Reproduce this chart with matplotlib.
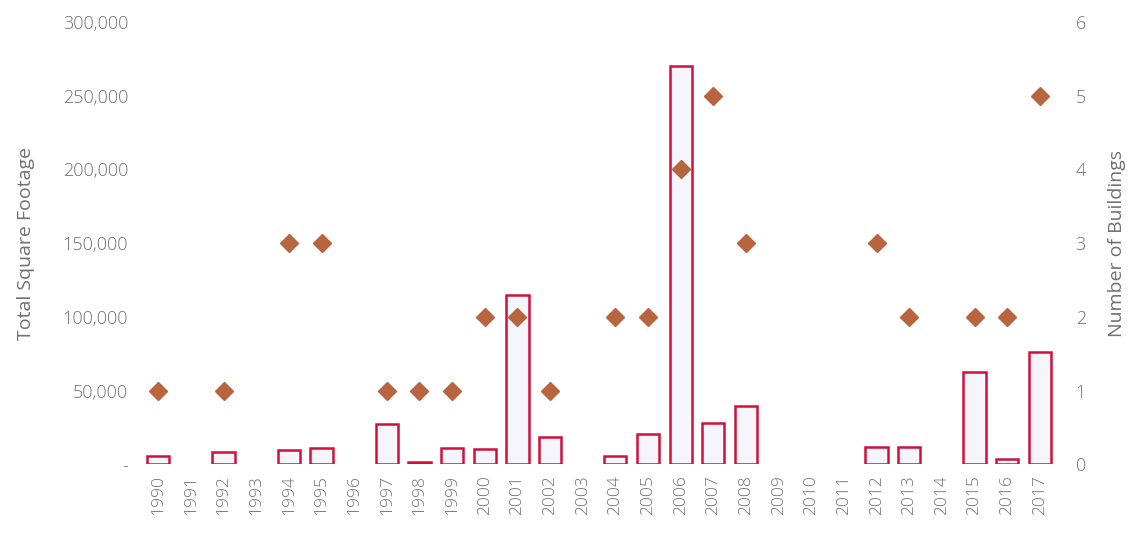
import matplotlib
matplotlib.use('Agg')
import matplotlib.pyplot as plt
import matplotlib.ticker as mticker
import numpy as np

years = [str(y) for y in range(1990, 2018)]
# total square footage per year
sqft = [5500, 0, 8000, 0, 9500, 11000, 0, 27000, 1500, 11000,
        10000, 115000, 18500, 0, 5500, 20500, 270000, 28000, 39500, 0,
        0, 0, 11500, 12000, 0, 62500, 3500, 76000]
# number of buildings per year (nan = none)
buildings = [1, np.nan, 1, np.nan, 3, 3, np.nan, 1, 1, 1,
             2, 2, 1, np.nan, 2, 2, 4, 5, 3, np.nan,
             np.nan, np.nan, 3, 2, np.nan, 2, 2, 5]

left_ticks = [0, 50000, 100000, 150000, 200000, 250000, 300000]
right_ticks = [0, 1, 2, 3, 4, 5, 6]

text_col = '#707070'
bar_edge = '#d0103a'
bar_fill = '#f5f5fb'
dot_col = '#b8643e'

plt.rcParams['font.family'] = ['Open Sans', 'DejaVu Sans']
plt.rcParams['font.weight'] = 'light'

def main():
    fig = plt.figure(figsize=(11.32, 5.33), dpi=100)
    ax = fig.add_axes([0.1254, 0.129, 0.8076, 0.83])
    x = np.arange(len(years))

    # only years with construction get a bar
    xs = [i for i in x if sqft[i] > 0]
    hs = [sqft[i] for i in xs]
    ax.bar(xs, hs, width=0.68, color=bar_fill, edgecolor=bar_edge, linewidth=1.8)
    ax.set_xlim(-0.5, len(years) - 0.5)
    ax.set_ylim(0, 300000)
    ax.set_yticks(left_ticks)
    ax.yaxis.set_major_formatter(mticker.FuncFormatter(
        lambda v, p: '-' if v == 0 else f'{int(v):,}'))
    ax.set_xticks(x)
    ax.set_xticklabels(years, rotation=90)
    ax.set_ylabel('Total Square Footage', fontsize=14, color=text_col, labelpad=20)

    ax2 = ax.twinx()
    ax2.plot(x, buildings, linestyle='none', marker='D', markersize=9,
             color=dot_col, markeredgecolor=dot_col)
    ax2.set_ylim(0, 6)
    ax2.set_yticks(right_ticks)
    ax2.set_ylabel('Number of Buildings', fontsize=14, color=text_col, labelpad=16)

    for a in (ax, ax2):
        for s in a.spines.values():
            s.set_visible(False)
        a.tick_params(length=0, colors=text_col)
    ax.tick_params(axis='y', labelsize=13, pad=10)
    ax.tick_params(axis='x', labelsize=12.5, pad=8)
    ax2.tick_params(axis='y', labelsize=13, pad=14)

    fig.savefig('out.png', dpi=100)

if __name__ == '__main__':
    main()
